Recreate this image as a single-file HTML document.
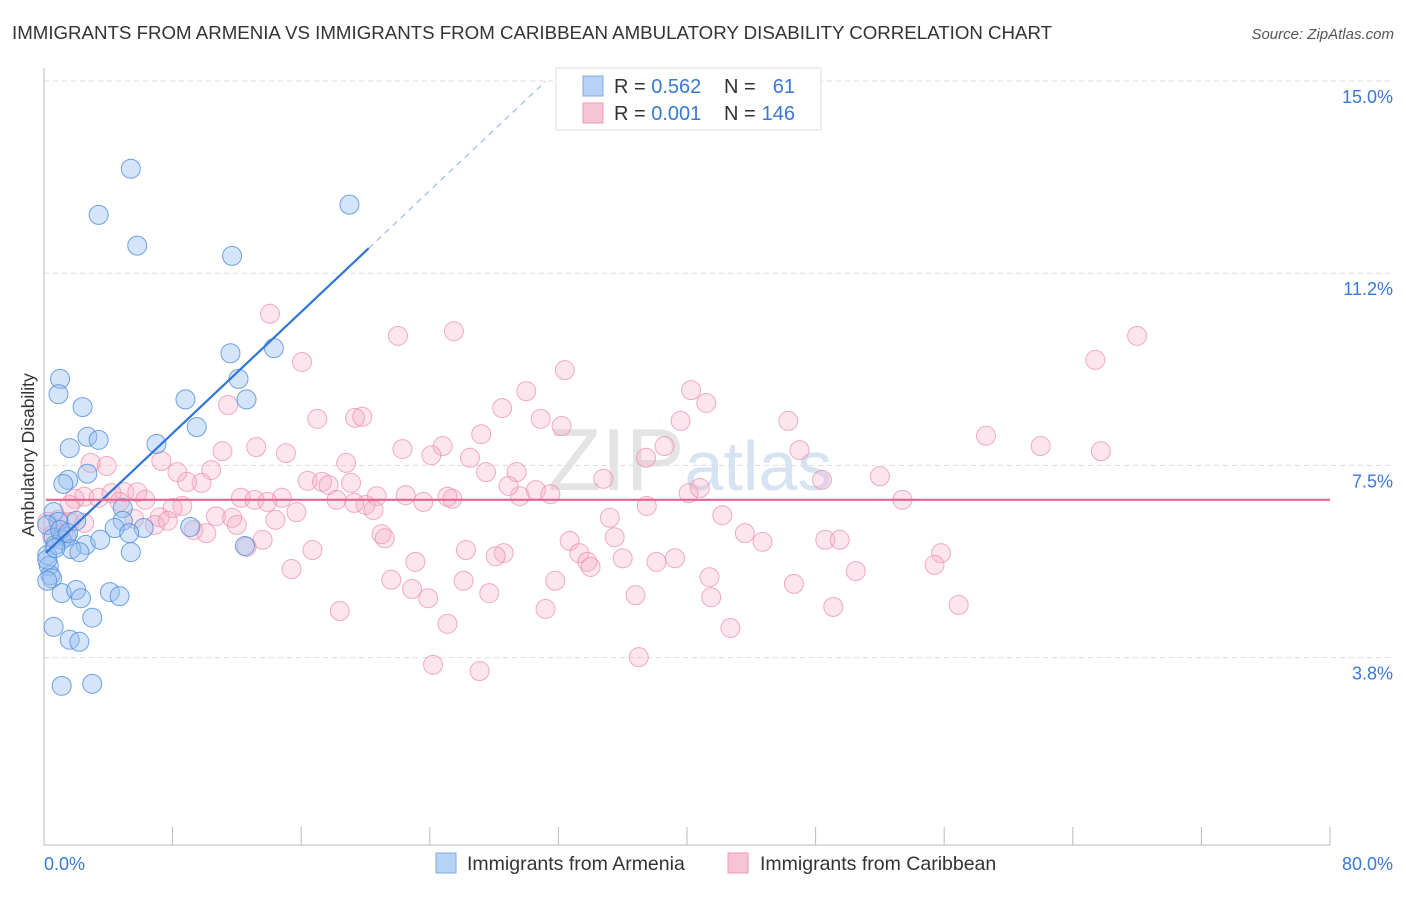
<!DOCTYPE html>
<html><head><meta charset="utf-8"><style>
body{margin:0;background:#fff;font-family:"Liberation Sans",Arial,sans-serif;}
svg text{font-family:"Liberation Sans",Arial,sans-serif;}
</style></head><body>
<svg id="chart" width="1406" height="892" xmlns="http://www.w3.org/2000/svg">
<text x="12" y="39" font-size="18.7" fill="#333">IMMIGRANTS FROM ARMENIA VS IMMIGRANTS FROM CARIBBEAN AMBULATORY DISABILITY CORRELATION CHART</text>
<text x="1394" y="39" font-size="15" fill="#555" text-anchor="end" font-style="italic">Source: ZipAtlas.com</text>
<text x="690" y="490" font-size="88" fill="#e4e4e4" text-anchor="middle" font-family="Liberation Serif">ZIP<tspan fill="#d6e3f3" font-family="Liberation Sans" font-size="70">atlas</tspan></text>
<g id="grid"></g>
<g id="axes"></g>
<g id="marks"></g>
<g id="trends"></g>
<text transform="translate(34,455) rotate(-90)" font-size="17.5" fill="#333" text-anchor="middle">Ambulatory Disability</text>
<g>
<rect x="556" y="68" width="265" height="62" fill="#fff" stroke="#ddd"/>
<rect x="583" y="76" width="20" height="20" fill="#b8d2f5" stroke="#7eaae6"/>
<rect x="583" y="103" width="20" height="20" fill="#f8c3d4" stroke="#eb9ab5"/>
<text x="614" y="93" font-size="20" fill="#333">R = <tspan fill="#3a78d4">0.562</tspan></text>
<text x="724" y="93" font-size="20" fill="#333">N =</text>
<text x="795" y="93" font-size="20" fill="#3a78d4" text-anchor="end">61</text>
<text x="614" y="120" font-size="20" fill="#333">R = <tspan fill="#3a78d4">0.001</tspan></text>
<text x="724" y="120" font-size="20" fill="#333">N =</text>
<text x="795" y="120" font-size="20" fill="#3a78d4" text-anchor="end">146</text>
</g>
<g>
<rect x="436" y="853" width="20" height="20" fill="#b8d2f5" stroke="#7eaae6"/>
<text x="467" y="870" font-size="19.5" fill="#333">Immigrants from Armenia</text>
<rect x="728" y="853" width="20" height="20" fill="#f8c3d4" stroke="#eb9ab5"/>
<text x="760" y="870" font-size="19.5" fill="#333">Immigrants from Caribbean</text>
</g>
</svg>
<script>
const blueX=[5.4,3.4,5.8,11.7,19.0,11.6,14.3,12.1,1.0,0.9,8.8,12.6,2.4,9.5,2.7,3.4,7.0,1.6,1.5,1.2,2.7,0.6,4.9,2.0,0.9,0.2,4.9,6.2,4.4,5.3,0.6,1.4,2.6,1.1,0.7,1.7,2.2,5.4,12.5,9.1,0.2,0.3,0.4,0.5,0.2,1.1,2.0,2.3,4.1,4.7,3.0,0.6,1.6,2.2,1.1,3.0,0.2,1.0,1.5,0.7,3.5];
const blueY=[13.6,12.7,12.1,11.9,12.9,10.0,10.1,9.5,9.5,9.2,9.1,9.1,8.95,8.56,8.37,8.31,8.23,8.15,7.53,7.45,7.65,6.9,6.98,6.73,6.71,6.65,6.73,6.59,6.59,6.49,6.4,6.42,6.26,6.36,6.26,6.18,6.12,6.12,6.24,6.61,6.06,5.85,5.67,5.61,5.56,5.32,5.38,5.22,5.34,5.26,4.84,4.66,4.41,4.37,3.51,3.55,5.97,6.55,6.49,6.2,6.36];
const pinkX=[14.06,22.02,25.5,68.0,65.4,16.05,32.4,30.0,40.25,41.2,28.5,11.45,19.35,19.8,17.0,30.9,32.2,39.6,46.3,58.6,62.0,65.75,27.2,24.8,22.3,24.1,13.2,15.05,11.1,38.6,37.45,47.0,3.9,2.9,7.3,26.5,18.8,10.4,8.3,27.5,29.4,34.8,52.0,48.4,16.4,17.3,17.7,19.1,9.8,8.9,5.0,2.5,3.4,4.2,5.8,6.3,4.7,1.9,1.6,8.6,8.0,12.25,13.1,14.8,13.9,18.2,20.7,22.5,23.6,25.4,29.6,30.6,31.5,28.9,40.1,40.8,53.4,20.0,20.5,15.7,37.5,42.2,0.9,1.6,2.5,1.2,0.2,0.5,5.6,7.2,6.9,7.7,10.7,11.7,12.0,14.4,9.3,10.1,35.2,21.0,21.2,13.6,12.6,35.5,32.7,43.6,44.7,48.6,49.5,26.25,16.7,28.6,28.1,33.3,33.8,34.0,36.0,38.1,39.25,23.1,15.4,55.8,55.4,50.5,21.6,26.1,31.8,41.4,46.65,22.9,23.9,27.7,36.8,41.5,31.2,18.4,49.1,56.9,25.1,42.7,24.2,27.1,37.0,19.3,25.1];
const pinkY=[10.77,10.34,10.43,10.34,9.87,9.83,9.67,9.26,9.28,9.03,8.93,8.99,8.74,8.76,8.72,8.72,8.58,8.68,8.68,8.39,8.19,8.09,8.42,8.19,8.13,8.01,8.17,8.05,8.09,8.19,7.96,8.11,7.8,7.86,7.9,7.96,7.86,7.72,7.68,7.68,7.68,7.55,7.6,7.53,7.51,7.49,7.43,7.47,7.47,7.49,7.29,7.2,7.18,7.27,7.29,7.14,7.1,7.16,7.04,7.02,6.98,7.18,7.14,7.18,7.1,7.14,7.21,7.23,7.1,7.16,7.21,7.33,7.25,7.41,7.27,7.37,7.14,7.04,6.94,6.9,7.02,6.84,6.75,6.71,6.69,6.49,6.71,6.45,6.77,6.8,6.65,6.73,6.82,6.79,6.65,6.75,6.55,6.49,6.79,6.47,6.39,6.36,6.22,6.41,6.34,6.49,6.32,6.36,6.36,6.16,6.16,6.1,6.04,6.1,5.93,5.83,6.0,5.93,6.0,5.93,5.79,6.1,5.87,5.75,5.58,5.56,5.56,5.63,5.5,5.4,5.22,5.32,5.28,5.24,5.01,4.97,5.05,5.09,4.72,4.64,3.92,3.8,4.07,7.08,7.2];
const yTicks=[15,11.25,7.5,3.75];
const yTickLabels=["15.0%","11.2%","7.5%","3.8%"];
const xTicks=[0,8,16,24,32,40,48,56,64,72,80];
const blueTrend=[6.07,0.296];
const pinkTrend=[7.14,0];
const NS="http://www.w3.org/2000/svg";
const xS=v=>44+v*(1286/80);
const yS=v=>97+(15-v)*51.25;
function mk(tag,attrs,parent){const e=document.createElementNS(NS,tag);for(const k in attrs)e.setAttribute(k,attrs[k]);document.getElementById(parent).appendChild(e);return e;}
yTicks.forEach((t,i)=>{
 const g=mk('line',{x1:44,x2:1394,y1:yS(t)-16,y2:yS(t)-16,stroke:'#ddd','stroke-dasharray':'5,4'},'grid');
 
 
 const l=mk('text',{x:1393,y:yS(t)+6,'font-size':18,fill:'#3a78d4','text-anchor':'end'},'grid');
 l.textContent=yTickLabels[i];
 
 
});
const ax=mk('line',{x1:44,x2:44,y1:68,y2:845,stroke:'#bbb'},'axes');


const bx=mk('line',{x1:44,x2:1330,y1:845,y2:845,stroke:'#bbb'},'axes');


xTicks.forEach(t=>{
 const k=mk('line',{x1:xS(t),x2:xS(t),y1:827,y2:845,stroke:'#bbb'},'axes');
 
 
});
const x0=mk('text',{x:44,y:870,'font-size':18,fill:'#3a78d4'},'axes');x0.textContent='0.0%';


const x1=mk('text',{x:1393,y:870,'font-size':18,fill:'#3a78d4','text-anchor':'end'},'axes');x1.textContent='80.0%';


pinkX.forEach((x,i)=>{
 const c=mk('circle',{cx:xS(x),cy:yS(pinkY[i]),r:9.5,fill:'rgba(246,175,200,0.32)',stroke:'rgba(235,140,170,0.7)','stroke-width':1},'marks');
 
 
});
blueX.forEach((x,i)=>{
 const c=mk('circle',{cx:xS(x),cy:yS(blueY[i]),r:9.5,fill:'rgba(150,190,240,0.4)',stroke:'rgba(80,140,220,0.8)','stroke-width':1},'marks');
 
 
});
const bf=v=>blueTrend[0]+blueTrend[1]*v;
const t1=mk('line',{x1:xS(0.12),y1:yS(bf(0.12)),x2:xS(20.2),y2:yS(bf(20.2)),stroke:'#2f74d8','stroke-width':2.2},'trends');


const t2=mk('line',{x1:xS(20.2),y1:yS(bf(20.2)),x2:xS(31.2),y2:yS(bf(31.2)),stroke:'#9bbbe8','stroke-width':1.2,'stroke-dasharray':'6,5'},'trends');


const pf=v=>pinkTrend[0]+pinkTrend[1]*v;
const t3=mk('line',{x1:xS(0.12),y1:yS(pf(0)),x2:xS(80),y2:yS(pf(80)),stroke:'#e8648e','stroke-width':2.2},'trends');


</script>
</body></html>
